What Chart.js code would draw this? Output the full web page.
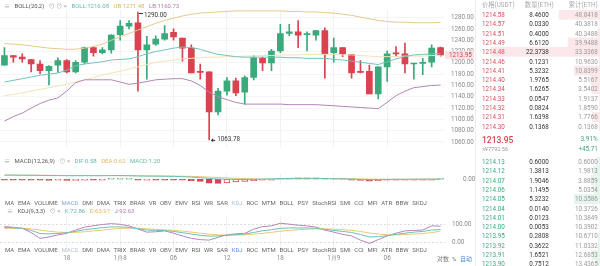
<!DOCTYPE html>
<html>
<head>
<meta charset="utf-8">
<script src="https://cdn.jsdelivr.net/npm/chart.js@4.4.1/dist/chart.umd.min.js"></script>
<style>
  body { margin: 0; width: 600px; height: 266px; overflow: hidden; background: #fff; position: relative;
         font-family: Roboto, "Noto Sans CJK SC", sans-serif; }
  canvas { position: absolute; left: 0; }
  /* text is written at double size and scaled down, so tiny labels keep their real size */
  .t, .ob, .row { position: absolute; white-space: nowrap; transform: scale(0.5); transform-origin: 0 0; }
  .t { font-size: 12px; line-height: 16px; color: #666; }
  .ob { font-size: 12.6px; line-height: 16px; }
  .r { transform-origin: 100% 0; text-align: right; }
  .row { display: flex; font-size: 12px; line-height: 16px; color: #666; }
  .tabs { width: 844px; justify-content: space-between; }
  .legend { gap: 9px; }
</style>
</head>
<body>
<canvas id="kline" width="475" height="157" style="top:0"></canvas>
<canvas id="macd" width="475" height="38" style="top:160px"></canvas>
<canvas id="kdj" width="475" height="59" style="top:205px"></canvas>
<canvas id="askDepth" width="124" height="121" style="left:476px;top:10px"></canvas>
<canvas id="bidDepth" width="124" height="112" style="left:476px;top:157px"></canvas>
<div id="overlay"></div>

<script>
// candles, hourly
const times = Array.from({ length: 50 }, (_, i) => String((11 + i) % 24).padStart(2, '0'));
const dateTickIdx = [7, 13, 19, 25, 31, 37, 43];
const dateTicks = ['18', '1月8', '06', '12', '18', '1月9', '06'];

const opens  = [1196,1213,1210,1206,1198,1186,1196,1204,1184,1201,1227,1218,1223,1250,1265,1271,1223,1233,1242,1254,1244,1226,1184,1184,1113,1150,1168,1148,1174,1208,1200,1221,1252,1255,1250,1249,1257,1218,1227,1215,1185,1185,1145,1193,1217,1216,1198,1199,1201,1227];
const highs  = [1227,1213,1216,1206,1204,1195,1209,1206,1204,1228,1229,1227,1250,1275,1275,1290,1247,1248,1266,1260,1244,1232,1198,1184,1155,1174,1173,1177,1213,1210,1224,1268,1268,1275,1255,1257,1262,1244,1227,1215,1204,1196,1193,1221,1229,1235,1199,1208,1232,1228];
const lows   = [1196,1201,1201,1184,1181,1161,1183,1182,1182,1198,1212,1216,1217,1240,1260,1150,1171,1231,1240,1240,1203,1182,1171,1063.78,1108,1143,1142,1127,1170,1186,1186,1218,1248,1227,1221,1240,1173,1201,1211,1173,1182,1145,1136,1167,1211,1182,1171,1179,1193,1212];
const closes = [1213,1210,1207,1198,1186,1194,1204,1184,1201,1227,1218,1223,1249,1265,1270,1223,1232,1242,1252,1246,1226,1182,1183,1113,1150,1168,1147,1174,1209,1200,1221,1252,1255,1249,1251,1257,1216,1227,1216,1182,1183,1145,1193,1216,1216,1198,1199,1200,1226,1213.95];

// BOLL(20,2) + long MA
const bollUp  = [1234,1233,1232,1230,1228,1226,1225,1224,1224,1226,1229,1233,1240,1246,1252,1258,1264,1270,1275,1279,1283,1286,1288,1289,1290,1291,1292,1292,1292,1292,1292,1292,1291,1291,1290,1290,1289,1288,1286,1284,1281,1278,1275,1273,1272,1272,1271,1271,1271,1271.48];
const bollMid = [1166,1169,1172,1175,1178,1180,1182,1187,1195,1198,1200,1202,1205,1206,1207,1211,1216,1220,1223,1226,1228,1227,1224,1219,1215,1213,1211,1210,1210,1210,1210,1210,1209,1209,1208,1208,1208,1206,1205,1203,1201,1199,1197,1202,1207,1211,1214,1215,1216,1216.08];
const bollLow = [1097,1105,1111,1120,1128,1134,1138,1150,1165,1170,1170,1170,1170,1166,1162,1164,1167,1170,1171,1172,1172,1168,1160,1148,1140,1135,1130,1127,1127,1127,1127,1127,1126,1126,1126,1126,1125,1124,1123,1122,1121,1120,1119,1130,1142,1150,1156,1158,1160,1160.73];
const maLong  = [1142,1144,1147,1150,1153,1156,1159,1162,1166,1170,1174,1178,1182,1185,1189,1193,1197,1201,1203,1205,1207,1208,1209,1210,1210,1211,1211,1212,1212,1213,1213,1214,1214,1214,1215,1215,1215,1215,1214,1214,1213,1212,1211,1211,1211,1212,1212,1212,1213,1213];

// MACD(12,26,9)
const macdHist = [-0.6,-0.7,-0.8,-0.9,-2.5,-4,-3.5,-4.5,-4,-3,-3,-2,1,2,3,-0.8,-0.5,-0.5,-0.6,-1,-3,-5,-8,-14,-15,-13,-10,-8,-5,-3,-1,2,4,5,5.2,5,2.5,1.5,0.5,-2,-4,-7,-5,-3,-3,-2,-1.5,-1,-0.5,0.3];
const dif = [15,15,14.5,14.5,14,13.5,13.5,13,13,13,13,13,13.5,13.5,13,12,11.5,11.5,11,10.5,9.5,8,6,3,1,0,-0.5,-0.5,0,0.5,1.5,2.5,3,3.5,3.5,3,2.5,2,1.5,0.5,-0.5,-1,-1,-0.5,0,0,0.3,0.5,0.6,0.58];
const dea = [15.5,15.5,15,15,14.8,14.5,14.2,14,14,13.8,13.6,13.4,13.3,13.2,13,12.8,12.5,12.2,11.8,11.4,11,10.5,9.5,8,6.5,5,3.5,2.5,1.5,1,0.8,1,1.5,2,2.3,2.5,2.5,2.4,2.2,1.8,1.2,0.6,0.2,0,0,0.1,0.2,0.4,0.5,0.62];

// KDJ(9,3,3)
const kLine = [85,83,80,68,50,48,50,55,62,72,78,84,88,88,85,78,70,68,67,62,55,47,40,35,36,40,44,47,56,66,72,80,82,82,82,80,74,68,62,56,44,30,32,38,45,52,58,62,70,72.86];
const dLine = [80,80,80,77,70,63,58,56,57,60,65,70,75,79,81,80,77,74,71,68,64,58,52,46,42,40,41,42,46,51,57,63,68,72,75,77,77,75,72,68,62,53,47,43,42,44,47,50,55,63.97];
const jLine = [90,86,80,55,22,30,42,51,70,87,95,102,107,103,94,76,58,60,65,52,36,22,15,12,28,43,48,51,75,90,94,109,104,98,94,87,70,58,45,36,12,-7,15,36,52,65,68,70,94,92.63];

// order book
const askPrice = ['1214.58','1214.57','1214.51','1214.49','1214.48','1214.46','1214.41','1214.40','1214.34','1214.33','1214.32','1214.31','1214.30'];
const askQty   = [8.46,0.033,0.4,6.612,22.3738,0.1231,5.3232,1.9765,1.6265,0.0547,0.0824,1.6398,0.1368];
const askCum   = [48.8418,40.3818,40.3488,39.9488,33.3368,10.963,10.8399,5.5167,3.5402,1.9137,1.859,1.7766,0.1368];
const bidPrice = ['1214.13','1214.12','1214.07','1214.06','1214.05','1214.04','1214.01','1214.00','1213.95','1213.92','1213.91','1213.90'];
const bidQty   = [0.6,1.3813,1.9046,1.1495,5.3232,0.014,0.0123,0.0053,0.2808,0.3622,1.6521,0.7512];
const bidCum   = [0.6,1.9813,3.8859,5.0354,10.3586,10.3726,10.3849,10.3902,10.671,11.0332,12.6853,13.4365];

const UP = '#3aa97c', DOWN = '#d8434f';
Chart.defaults.font.family = 'Roboto';
Chart.defaults.font.size = 6.3;
Chart.defaults.animation = false;
Chart.defaults.plugins.legend.display = false;
Chart.defaults.plugins.tooltip.enabled = false;

const candleColors = closes.map((c, i) => c >= opens[i] ? UP : DOWN);
const fixWidth = s => { s.width = 30; };
const dateGrid = c => dateTickIdx.includes(c.index) ? '#f1f1f1' : 'rgba(0,0,0,0)';
const lineDs = (data, color, order) => ({ type: 'line', data, borderColor: color, borderWidth: 1, pointRadius: 0, order });

const priceMarks = {
    id: 'priceMarks',
    afterDraw(chart) {
        const { ctx, scales: { x, y } } = chart;
        ctx.save();
        ctx.font = '6.3px Roboto';
        ctx.textBaseline = 'middle';
        ctx.fillStyle = '#333';
        ctx.strokeStyle = '#333';
        ctx.lineWidth = 1;
        const hi = highs.indexOf(Math.max(...highs));
        const lo = lows.indexOf(Math.min(...lows));
        let px = x.getPixelForValue(hi), py = y.getPixelForValue(highs[hi]) + 1;
        ctx.beginPath(); ctx.moveTo(px + 1, py + 0.5); ctx.lineTo(px + 5, py + 0.5); ctx.stroke();
        ctx.fillText(highs[hi].toFixed(2), px + 6, py + 2);
        px = x.getPixelForValue(lo); py = y.getPixelForValue(lows[lo]);
        ctx.beginPath(); ctx.moveTo(px + 2, py + 0.5); ctx.lineTo(px + 6, py + 0.5); ctx.stroke();
        ctx.beginPath(); ctx.moveTo(px + 2, py + 0.5); ctx.lineTo(px + 4, py - 1.5); ctx.lineTo(px + 4, py + 2.5); ctx.fill();
        ctx.fillText(lows[lo].toFixed(2), px + 8, py);
        // last price tag on axis
        const last = closes[closes.length - 1];
        const ly = y.getPixelForValue(last);
        ctx.fillStyle = '#fbe1e4';
        ctx.fillRect(445, ly - 4, 29, 8);
        ctx.fillStyle = DOWN;
        ctx.fillText(last.toFixed(2), 449, ly);
        ctx.restore();
    }
};

new Chart(document.getElementById('kline'), {
    type: 'bar',
    data: {
        labels: times,
        datasets: [
            lineDs(bollUp, '#e6c98f', 0),
            lineDs(bollMid, '#74c2ba', 0),
            lineDs(bollLow, '#b784bb', 0),
            lineDs(maLong, '#f3e3b3', 0),
            { data: opens.map((o, i) => [o, closes[i]]), backgroundColor: candleColors, barThickness: 6, minBarLength: 1, grouped: false, order: 1 },
            { data: lows.map((l, i) => [l, highs[i]]), backgroundColor: candleColors, barThickness: 1, grouped: false, order: 2 }
        ]
    },
    options: {
        responsive: false,
        layout: { padding: 0 },
        scales: {
            x: { offset: true, grid: { offset: false, color: dateGrid, drawTicks: false }, ticks: { display: false }, border: { display: false } },
            y: {
                position: 'right', min: 1050.7, max: 1293.9, afterFit: fixWidth,
                grid: { color: '#f5f5f5', drawTicks: false }, border: { display: false },
                ticks: { stepSize: 20, includeBounds: false, padding: 6, color: '#8a8a8a', callback: v => v.toFixed(2) }
            }
        }
    },
    plugins: [priceMarks]
});

// MACD histogram: filled when moving away from zero, hollow otherwise
const histFill = macdHist.map((v, i) => {
    const p = i ? macdHist[i - 1] : 0;
    if (v < 0) return v <= p ? DOWN : '#fff';
    return v >= p ? '#fff' : UP;
});
const histBorder = macdHist.map(v => v < 0 ? DOWN : UP);

new Chart(document.getElementById('macd'), {
    type: 'bar',
    data: {
        labels: times,
        datasets: [
            lineDs(dif, '#6cc0b7', 0),
            lineDs(dea, '#ecc96e', 0),
            { data: macdHist, backgroundColor: histFill, borderColor: histBorder, borderWidth: 1, borderSkipped: false, barThickness: 6, minBarLength: 1, order: 1 }
        ]
    },
    options: {
        responsive: false,
        layout: { padding: 0 },
        scales: {
            x: { offset: true, grid: { offset: false, color: dateGrid, drawTicks: false }, ticks: { display: false }, border: { display: false } },
            y: {
                position: 'right', min: -18, max: 20, afterFit: fixWidth,
                afterBuildTicks: s => { s.ticks = [{ value: 0 }]; },
                grid: { display: false }, border: { display: false },
                ticks: { padding: 10, color: '#8a8a8a', callback: v => v.toFixed(2) }
            }
        }
    }
});

new Chart(document.getElementById('kdj'), {
    type: 'line',
    data: {
        labels: times,
        datasets: [
            lineDs(kLine, '#6cc0b7', 0),
            lineDs(dLine, '#ecc96e', 0),
            lineDs(jLine, '#b784bb', 0)
        ]
    },
    options: {
        responsive: false,
        layout: { padding: 0 },
        scales: {
            x: {
                offset: true,
                grid: { offset: false, color: dateGrid, drawTicks: false }, border: { display: false },
                ticks: {
                    autoSkip: false, maxRotation: 0, padding: 2, color: '#8a8a8a',
                    callback: (v, i) => { const k = dateTickIdx.indexOf(i); return k < 0 ? '' : dateTicks[k]; }
                }
            },
            y: {
                position: 'right', min: -59, max: 152.2, afterFit: fixWidth,
                afterBuildTicks: s => { s.ticks = [{ value: 0 }, { value: 100 }]; },
                grid: { color: '#dcdcdc', drawTicks: false }, border: { display: false, dash: [2, 2] },
                ticks: { padding: 7, color: '#8a8a8a', callback: v => v.toFixed(2) }
            }
        }
    }
});

// depth bars behind the order book rows
const depthChart = (id, qty, color) => new Chart(document.getElementById(id), {
    type: 'bar',
    data: { labels: qty.map((_, i) => i), datasets: [{ data: qty, backgroundColor: color, barPercentage: 1, categoryPercentage: 1 }] },
    options: {
        indexAxis: 'y', responsive: false, layout: { padding: 0 },
        scales: {
            x: { display: false, reverse: true, min: 0, max: 25.6 },
            y: { display: false }
        }
    }
});
depthChart('askDepth', askQty, '#fce8ea');
depthChart('bidDepth', bidQty, '#e6f5ee');

// text overlay
const ov = document.getElementById('overlay');
const put = (txt, x, y, color, cls = 't', extra = '') => {
    const d = document.createElement('div');
    d.className = cls;
    d.textContent = txt;
    d.style.cssText = `left:${x}px;top:${y}px;color:${color};${extra}`;
    ov.appendChild(d);
    return d;
};
const putR = (txt, right, y, color, extra = '') => put(txt, 0, y, color, 'ob r', `left:auto;right:${600 - right}px;${extra}`);
const putRow = (items, x, y, cls) => {
    const d = document.createElement('div');
    d.className = 'row ' + cls;
    d.style.cssText = `left:${x}px;top:${y}px`;
    items.forEach(([txt, color]) => {
        const s = document.createElement('span');
        s.textContent = txt;
        s.style.color = color;
        d.appendChild(s);
    });
    ov.appendChild(d);
};

// indicator legends
const icons = ['⊙ ⊙ ×', '#aaa'];
putRow([['≡', '#999'], ['BOLL(20,2)', '#555'], icons, ['BOLL:1216.08', '#5fb9b0'], ['UB:1271.48', '#d9b56a'], ['LB:1160.73', '#b07bb5']], 4, 2, 'legend');
putRow([['≡', '#999'], ['MACD(12,26,9)', '#555'], ['⊙ ×', '#aaa'], ['DIF:0.58', '#5fb9b0'], ['DEA:0.62', '#e0b95a'], ['MACD:1.20', '#6cc0a0']], 4, 157, 'legend');
putRow([['≡', '#999'], ['KDJ(9,3,3)', '#555'], ['⊙ ×', '#aaa'], ['K:72.86', '#5fb9b0'], ['D:63.97', '#e0b95a'], ['J:92.63', '#b07bb5']], 7, 207, 'legend');

// indicator tabs
const tabs = ['MA','EMA','VOLUME','MACD','DMI','DMA','TRIX','BRAR','VR','OBV','EMV','RSI','WR','SAR','KDJ','ROC','MTM','BOLL','PSY','StochRSI','SMI','CCI','MFI','ATR','BBW','SKDJ'];
putRow(tabs.map(n => [n, n === 'MACD' ? '#7fa8d8' : n === 'KDJ' ? '#a9c2e6' : '#666']), 5, 199, 'tabs');
putRow(tabs.map(n => [n, n === 'KDJ' ? '#5b93d6' : n === 'MACD' ? '#b5c3d4' : '#666']), 5, 246, 'tabs');
put('对数', 437, 255, '#777'); put('%', 452, 255, '#777'); put('自动', 460, 255, '#4a8ee0');
put('‹', 471, 112, '#bbb', 't', 'font-size:18px');

// order book
const sep = document.createElement('div');
sep.style.cssText = 'position:absolute;left:475px;top:0;width:1px;height:266px;background:#eee';
ov.appendChild(sep);
put('价格(USDT)', 482, 1, '#aaa', 'ob');
putR('数量(ETH)', 554, 1, '#aaa');
putR('累计(ETH)', 598, 1, '#aaa');
askPrice.forEach((p, i) => {
    const y = 11 + i * 9.3;
    put(p, 482, y, '#d8505c', 'ob');
    putR(askQty[i].toFixed(4), 549, y, '#333');
    putR(askCum[i].toFixed(4), 598, y, '#999');
});
put('1213.95', 482, 134, '#d8434f', 'ob', 'font-size:17px;line-height:22px;font-weight:500');
putR('3.91%', 598, 135, '#3aa97c', 'font-size:13px');
put('≈¥7792.56', 482, 145, '#999', 'ob', 'font-size:11px');
putR('+45.71', 598, 145, '#3aa97c');
bidPrice.forEach((p, i) => {
    const y = 158 + i * 9.3;
    put(p, 482, y, '#3aa97c', 'ob');
    putR(bidQty[i].toFixed(4), 549, y, '#333');
    putR(bidCum[i].toFixed(4), 598, y, '#999');
});
</script>
</body>
</html>
